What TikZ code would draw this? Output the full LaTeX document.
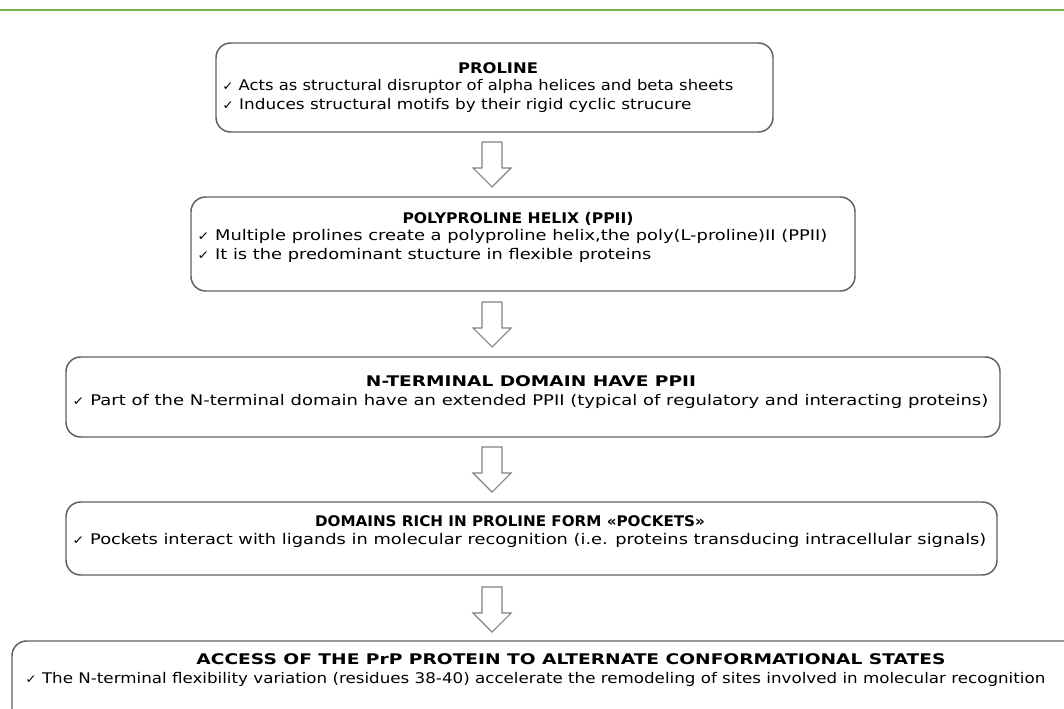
\documentclass[tikz,border=0pt]{standalone}
\usepackage{fontspec}
\setmainfont{DejaVu Sans}
\usepackage{graphicx}
\usepackage{xcolor}
\definecolor{framegray}{RGB}{96,96,96}
\definecolor{arrowgray}{RGB}{130,130,130}
\definecolor{rulegreen}{RGB}{118,176,80}
\newlength\pxu
\setlength\pxu{0.75pt}
\newcommand\fitw[2]{\resizebox{#1\pxu}{\height}{#2}}
\newcommand\tick{{\small ✓}\ }

\tikzset{
    downarrow/.pic={\draw[draw=arrowgray,line width=0.8pt,fill=white]
      (-10,0) -- (-10,26) -- (-19,26) -- (0,45) -- (19,26) -- (10,26) -- (10,0) -- cycle;}
}

\begin{document}
\begin{tikzpicture}[x=0.75pt,y=-0.75pt]
    \clip (0,0) rectangle (1064,709);
    \fill[white] (0,0) rectangle (1064,709);
    \draw[rulegreen,line width=1.6pt] (0,10) -- (1064,10);

    \begin{scope}[every node/.style={draw=framegray,line width=1.1pt,rounded corners=11pt,inner sep=0pt}]
      \node[minimum width=557\pxu,minimum height=89\pxu] (proline) at (494.5,87.5) {};
      \node[minimum width=664\pxu,minimum height=94\pxu] (ppii) at (523,244) {};
      \node[minimum width=934\pxu,minimum height=80\pxu] (nterm) at (533,397) {};
      \node[minimum width=931\pxu,minimum height=73\pxu] (pockets) at (531.5,538.5) {};
      \node[minimum width=1120\pxu,minimum height=96\pxu] (access) at (572,689) {};
    \end{scope}

    \begin{scope}[every node/.style={inner sep=0pt,anchor=base,font=\fontsize{11}{13}\selectfont\bfseries}]
      \node (proline title) at (498,74) {\fitw{80}{PROLINE}};
      \node (ppii title) at (518,224) {\fitw{231}{POLYPROLINE HELIX (PPII)}};
      \node (nterm title) at (531,387) {\fitw{330}{N-TERMINAL DOMAIN HAVE PPII}};
      \node (pockets title) at (510,526) {\fitw{390}{DOMAINS RICH IN PROLINE FORM «POCKETS»}};
      \node (access title) at (571,664) {\fitw{749}{ACCESS OF THE PrP PROTEIN TO ALTERNATE CONFORMATIONAL STATES}};
    \end{scope}

    \begin{scope}[every node/.style={inner sep=0pt,anchor=base west,font=\fontsize{11}{13}\selectfont}]
      \node (proline a) at (222,91) {\fitw{511}{\tick Acts as structural disruptor of alpha helices and beta sheets}};
      \node (proline b) at (222,110) {\fitw{469}{\tick Induces structural motifs by their rigid cyclic strucure}};
      \node (ppii a) at (197,241) {\fitw{630}{\tick Multiple prolines create a polyproline helix,the poly(L-proline)II (PPII)}};
      \node (ppii b) at (197,260) {\fitw{454}{\tick It is the predominant stucture in flexible proteins}};
      \node (nterm a) at (72,405) {\fitw{916}{\tick Part of the N-terminal domain have an extended PPII (typical of regulatory and interacting proteins)}};
      \node (pockets a) at (72,544) {\fitw{914}{\tick Pockets interact with ligands in molecular recognition (i.e. proteins transducing intracellular signals)}};
      \node (access a) at (25,683) {\fitw{1020}{\tick The N-terminal flexibility variation (residues 38-40) accelerate the remodeling of sites involved in molecular recognition}};
    \end{scope}

    \pic (arrow one) at (492,142) {downarrow};
    \pic (arrow two) at (492,302) {downarrow};
    \pic (arrow three) at (492,447) {downarrow};
    \pic (arrow four) at (492,587) {downarrow};
\end{tikzpicture}
\end{document}
